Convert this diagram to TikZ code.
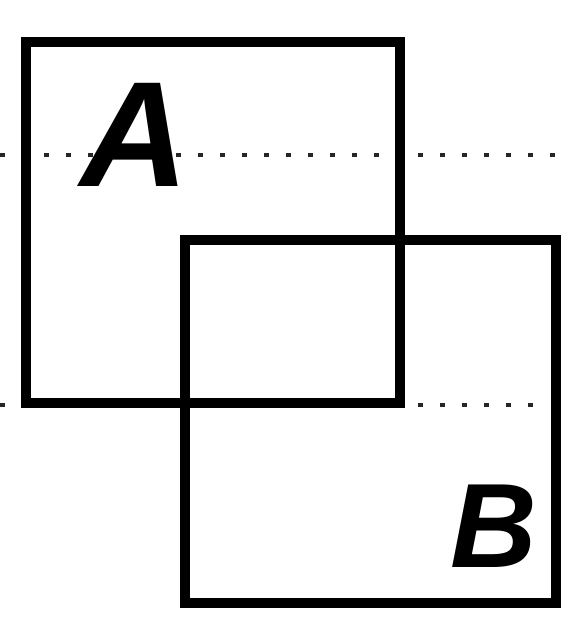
\documentclass[tikz,border=0pt]{standalone}
\usepackage{fontspec}
\setsansfont{Liberation Sans}

\begin{document}
\begin{tikzpicture}[x=1pt,y=-1pt,
  frame/.style={draw, line width=10pt, line join=miter},
  guide/.style={draw, line width=4pt, dash pattern=on 5pt off 17pt, black!85},
  letter/.style={inner sep=0pt, font=\sffamily\bfseries\itshape}]
  \useasboundingbox (0,0) rectangle (571,618);
  % guide lines
  \draw[guide] (0,155) -- (568,155);
  \draw[guide] (0,405) -- (540,405);
  % the two squares
  \draw[frame] (26,42) rectangle (400,403);
  \draw[frame] (185,240) rectangle (556,603);
  \node[letter, font=\sffamily\bfseries\itshape\fontsize{150}{150}\selectfont] (la) at (135,135) {A};
  \node[letter, font=\sffamily\bfseries\itshape\fontsize{120}{120}\selectfont] (lb) at (494,526) {B};
\end{tikzpicture}
\end{document}
